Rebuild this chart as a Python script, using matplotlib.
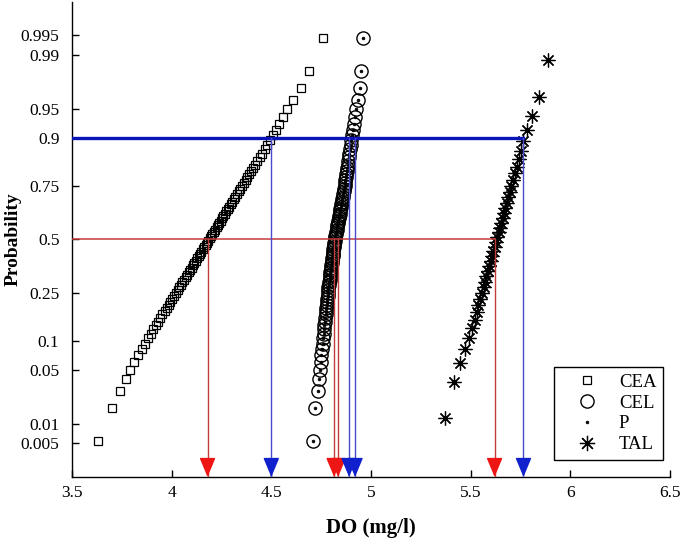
import numpy as np
import matplotlib
matplotlib.use("Agg")
import matplotlib.pyplot as plt
from matplotlib.lines import Line2D
from statistics import NormalDist

# ---------------- data (DO values in mg/l) ----------------
CEA_do = [3.63, 3.70, 3.74, 3.77, 3.79, 3.81, 3.83, 3.85, 3.864, 3.879,
          3.894, 3.907, 3.92, 3.932, 3.943, 3.954, 3.965, 3.975, 3.985, 3.994,
          4.003, 4.012, 4.021, 4.03, 4.038, 4.046, 4.054, 4.062, 4.07, 4.077,
          4.085, 4.092, 4.10, 4.107, 4.114, 4.121, 4.128, 4.135, 4.142, 4.149,
          4.156, 4.163, 4.17, 4.177, 4.184, 4.19, 4.197, 4.204, 4.211, 4.218,
          4.225, 4.232, 4.239, 4.246, 4.253, 4.26, 4.267, 4.274, 4.282, 4.289,
          4.297, 4.304, 4.312, 4.32, 4.328, 4.336, 4.345, 4.353, 4.362, 4.371,
          4.38, 4.389, 4.399, 4.41, 4.42, 4.43, 4.441, 4.453, 4.467, 4.48,
          4.495, 4.51, 4.525, 4.54, 4.56, 4.58, 4.61, 4.65, 4.69, 4.76]

CEL_do = [4.708, 4.718, 4.733, 4.740, 4.745, 4.748, 4.751, 4.754, 4.757, 4.760,
          4.762, 4.764, 4.766, 4.768, 4.771, 4.772, 4.774, 4.776, 4.777, 4.779,
          4.780, 4.782, 4.783, 4.785, 4.786, 4.788, 4.790, 4.792, 4.793, 4.795,
          4.796, 4.798, 4.800, 4.801, 4.803, 4.804, 4.806, 4.807, 4.809, 4.810,
          4.811, 4.813, 4.814, 4.816, 4.817, 4.819, 4.821, 4.823, 4.825, 4.827,
          4.829, 4.831, 4.834, 4.836, 4.838, 4.840, 4.842, 4.844, 4.846, 4.849,
          4.851, 4.853, 4.856, 4.858, 4.860, 4.863, 4.865, 4.868, 4.870, 4.872,
          4.874, 4.876, 4.879, 4.881, 4.884, 4.886, 4.889, 4.892, 4.895, 4.898,
          4.901, 4.905, 4.909, 4.913, 4.918, 4.923, 4.937, 4.944, 4.952, 4.960]

# P dots sit at the centres of the CEL circles
P_do = list(CEL_do)

TAL_do = [5.37, 5.415, 5.445, 5.47, 5.494, 5.508, 5.52, 5.53, 5.539, 5.548,
          5.557, 5.565, 5.572, 5.579, 5.586, 5.593, 5.60, 5.607, 5.614, 5.62,
          5.627, 5.633, 5.64, 5.646, 5.653, 5.66, 5.667, 5.674, 5.681, 5.688,
          5.695, 5.703, 5.712, 5.721, 5.73, 5.741, 5.752, 5.765, 5.782, 5.81,
          5.845, 5.888]

series_names = ["CEA", "CEL", "P", "TAL"]
median_do = [4.18, 4.815, 4.835, 5.62]   # red arrows (probability 0.5)
p90_do = [4.50, 4.89, 4.92, 5.765]       # blue arrows (probability 0.9)
median_level = 0.5
p90_level = 0.9

prob_ticks = [0.005, 0.01, 0.05, 0.1, 0.25, 0.5, 0.75, 0.9, 0.95, 0.99, 0.995]
prob_tick_labels = ["0.005", "0.01", "0.05", "0.1", "0.25", "0.5", "0.75",
                    "0.9", "0.95", "0.99", "0.995"]
x_ticks = [3.5, 4, 4.5, 5, 5.5, 6, 6.5]
x_tick_labels = ["3.5", "4", "4.5", "5", "5.5", "6", "6.5"]

# ---------------- style ----------------
plt.rcParams["font.family"] = ["Liberation Serif", "DejaVu Serif"]

nd = NormalDist()
_ppf = np.vectorize(lambda p: nd.inv_cdf(min(max(p, 1e-12), 1 - 1e-12)), otypes=[float])
_cdf = np.vectorize(nd.cdf, otypes=[float])


def fwd(p):
    return _ppf(np.asarray(p, dtype=float))


def inv(z):
    return _cdf(np.asarray(z, dtype=float))


def plotting_positions(vals):
    v = np.sort(np.asarray(vals, dtype=float))
    n = len(v)
    return v, (np.arange(1, n + 1) - 0.5) / n


fig = plt.figure(figsize=(6.85, 5.43), dpi=100)
ax = fig.add_axes([0.1051, 0.1215, 0.873, 0.875])
ax.set_yscale("function", functions=(fwd, inv))
ymin, ymax = nd.cdf(-3.0), nd.cdf(3.0)

marker_styles = {
    "CEA": dict(marker="s", ms=6.3, mfc="none", mec="black", mew=0.9),
    "CEL": dict(marker="o", ms=9.5, mfc="none", mec="black", mew=1.0),
    "P": dict(marker="o", ms=2.0, mfc="black", mec="black", mew=0.5),
    "TAL": dict(marker=(8, 2, 0), ms=10, mfc="black", mec="black", mew=0.9),
}
data_map = {"CEA": CEA_do, "CEL": CEL_do, "P": P_do, "TAL": TAL_do}

for name in series_names:
    xs, ps = plotting_positions(data_map[name])
    ax.plot(xs, ps, ls="none", zorder=2, **marker_styles[name])

# reference lines
red_line = "#c43c3c"
red_head = "#ee1515"
blue_line = "#4a4ad0"
blue_head = "#1020cc"

ax.plot([3.5, max(median_do)], [median_level, median_level], color=red_line, lw=1.1, zorder=3)
ax.plot([3.5, max(p90_do)], [p90_level, p90_level], color="#0a14b8", lw=2.4, zorder=3)

for xv in median_do:
    ax.plot([xv, xv], [median_level, ymin], color=red_line, lw=1.0, zorder=3)
    ax.annotate("", xy=(xv, ymin), xytext=(0, 13), textcoords="offset points",
                arrowprops=dict(arrowstyle="-|>,head_length=0.6,head_width=0.25",
                                color=red_head, lw=1.0, mutation_scale=20,
                                shrinkA=0, shrinkB=0), zorder=4)
for xv in p90_do:
    ax.plot([xv, xv], [p90_level, ymin], color=blue_line, lw=1.0, zorder=3)
    ax.annotate("", xy=(xv, ymin), xytext=(0, 13), textcoords="offset points",
                arrowprops=dict(arrowstyle="-|>,head_length=0.6,head_width=0.25",
                                color=blue_head, lw=1.0, mutation_scale=20,
                                shrinkA=0, shrinkB=0), zorder=4)

ax.set_xlim(3.5, 6.5)
ax.set_ylim(ymin, ymax)
ax.set_xticks(x_ticks)
ax.set_xticklabels(x_tick_labels)
ax.set_yticks(prob_ticks)
ax.set_yticklabels(prob_tick_labels)
ax.yaxis.set_minor_locator(matplotlib.ticker.NullLocator())
ax.xaxis.set_minor_locator(matplotlib.ticker.NullLocator())
ax.tick_params(direction="in", length=5, width=1, labelsize=12.5, pad=6)
ax.tick_params(axis="y", pad=9)
for s in ["top", "right"]:
    ax.spines[s].set_visible(False)
for s in ["left", "bottom"]:
    ax.spines[s].set_linewidth(1.0)

ax.set_xlabel("DO (mg/l)", fontsize=15, fontweight="bold", labelpad=12)
ax.set_ylabel("Probability", fontsize=14, fontweight="bold")
ax.yaxis.set_label_coords(-0.084, 0.5)

handles = [Line2D([], [], ls="none", **marker_styles[n]) for n in series_names]
handles[3] = Line2D([], [], ls="none", marker=(8, 2, 0), ms=11, mec="black", mew=0.9)
leg = ax.legend(handles, series_names, loc="lower right",
                bbox_to_anchor=(0.988, 0.036), borderaxespad=0,
                fontsize=13.5, frameon=True, fancybox=False, edgecolor="black",
                framealpha=1, handlelength=2.8, handletextpad=0.3,
                borderpad=0.35, labelspacing=0.2, numpoints=1)
leg.get_frame().set_linewidth(1.0)

fig.savefig("out.png", dpi=100)
